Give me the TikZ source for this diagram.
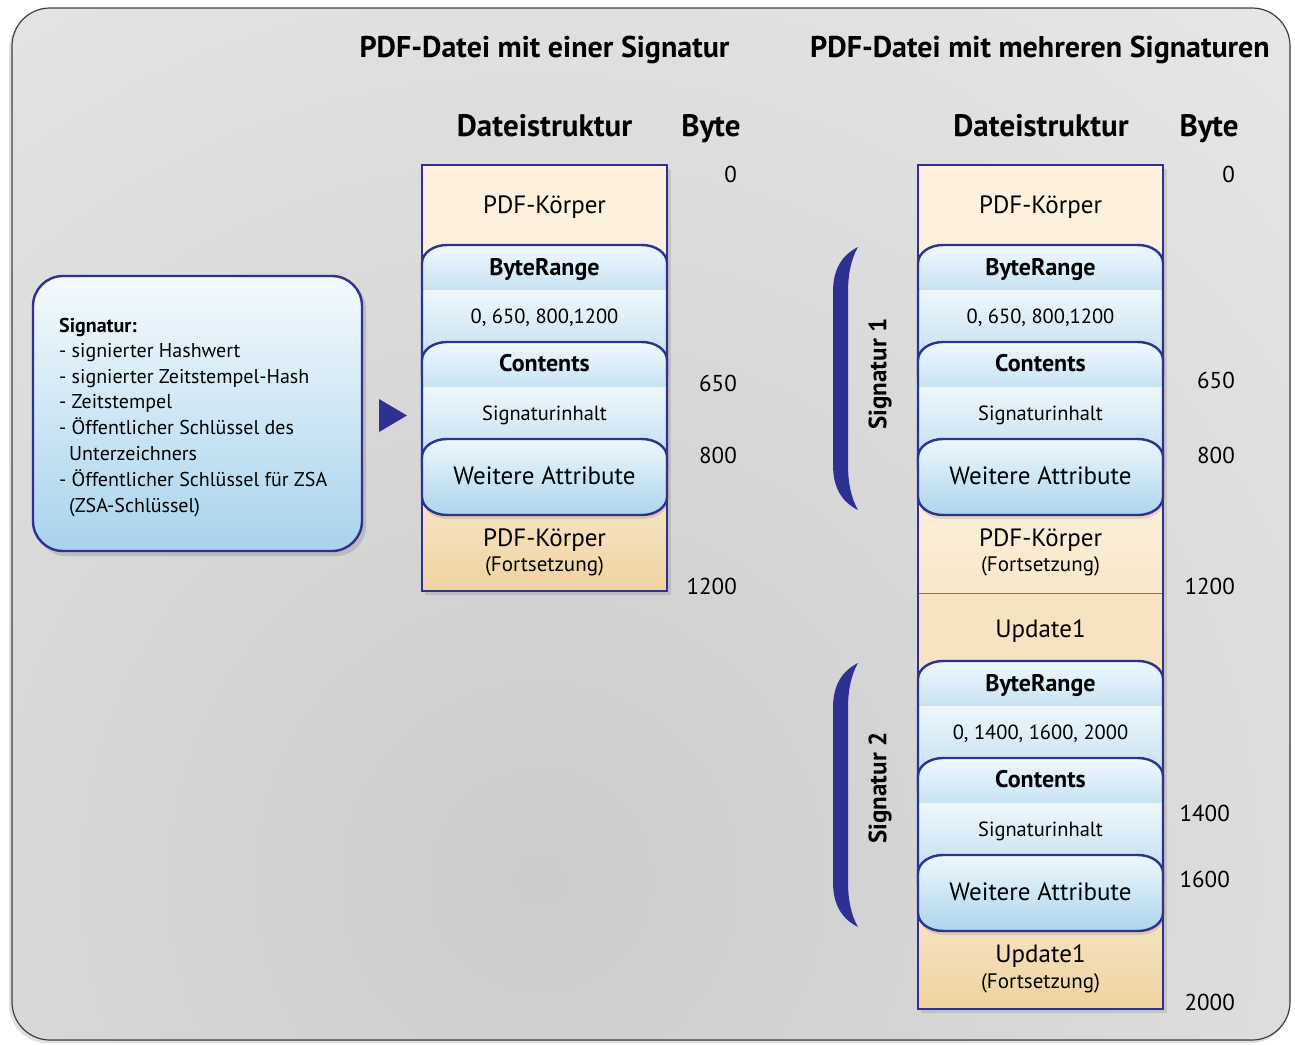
\documentclass[tikz,border=0pt]{standalone}
\usepackage{fontspec}
\setmainfont{PT Sans}
\definecolor{navy}{HTML}{2E3192}
\definecolor{bgA}{HTML}{E8E8E8}
\definecolor{bgB}{HTML}{CCCCCC}
\definecolor{pdfl}{HTML}{FDF1DE}
\definecolor{pdfm}{HTML}{F8E7C9}
\definecolor{upd}{HTML}{F6E3C0}
\definecolor{pdfd}{HTML}{EFD3A0}
\definecolor{bhtop}{HTML}{F0F8FD}
\definecolor{bhbot}{HTML}{C6E3F4}
\definecolor{bbtop}{HTML}{EEF7FC}
\definecolor{bbbot}{HTML}{B9DBF0}
\definecolor{watop}{HTML}{EEF7FC}
\definecolor{wabot}{HTML}{ACD5EE}
\definecolor{lbtop}{HTML}{F5FAFE}
\definecolor{lbbot}{HTML}{A8D3EC}
\pgfdeclareradialshading{bgshade}{\pgfpoint{0bp}{0bp}}{color(0bp)=(bgB); color(19bp)=(bgA); color(50bp)=(bgA)}
\tikzset{
  title/.style={font=\fontsize{30}{34}\selectfont\bfseries, anchor=base, inner sep=0},
  colhead/.style={font=\fontsize{31}{35}\selectfont\bfseries, anchor=base, inner sep=0},
  body/.style={font=\fontsize{25}{29}\selectfont, anchor=base, inner sep=0},
  sub/.style={font=\fontsize{21}{25}\selectfont, anchor=base, inner sep=0},
  hd/.style={font=\fontsize{24}{28}\selectfont\bfseries, anchor=base, inner sep=0},
  sm/.style={font=\fontsize{20.5}{24}\selectfont, anchor=base, inner sep=0},
  wa/.style={font=\fontsize{25}{29}\selectfont, anchor=base, inner sep=0},
  num/.style={font=\fontsize{23}{27}\selectfont, anchor=base east, inner sep=0},
  sig/.style={font=\fontsize{25}{29}\selectfont\bfseries, rotate=90, inner sep=0},
  lbox/.style={font=\fontsize{20}{26}\selectfont, anchor=base west, inner sep=0},
  edge/.style={navy, line width=2.4},
}
\newcommand\topband[3]{%
  \fill[top color=bhtop, bottom color=bhbot] (422,#2) -- (422,#1+18)
    arc[start angle=180, end angle=270, x radius=25, y radius=18] -- (642,#1)
    arc[start angle=270, end angle=360, x radius=25, y radius=18] -- (667,#2) -- cycle;
  \fill[top color=bbtop, bottom color=bbbot] (422,#2) rectangle (667,#3);
  \draw[edge] (422,#3) -- (422,#1+18)
    arc[start angle=180, end angle=270, x radius=25, y radius=18] -- (642,#1)
    arc[start angle=270, end angle=360, x radius=25, y radius=18] -- (667,#3);
}
\newcommand\wablock[2]{%
  \fill[black, opacity=0.10] (423,#1+22)
    arc[start angle=180, end angle=270, x radius=25, y radius=18] -- (643,#1+4)
    arc[start angle=270, end angle=360, x radius=25, y radius=18] -- (668,#2+4-18)
    arc[start angle=0, end angle=90, x radius=25, y radius=18] -- (448,#2+4)
    arc[start angle=90, end angle=180, x radius=25, y radius=18] -- cycle;
  \filldraw[edge, top color=watop, bottom color=wabot] (422,#1+18)
    arc[start angle=180, end angle=270, x radius=25, y radius=18] -- (642,#1)
    arc[start angle=270, end angle=360, x radius=25, y radius=18] -- (667,#2-18)
    arc[start angle=0, end angle=90, x radius=25, y radius=18] -- (447,#2)
    arc[start angle=90, end angle=180, x radius=25, y radius=18] -- cycle;
}
\newcommand\sigstack[2]{%
  \topband{245}{290}{375}
  \topband{342}{387}{470}
  \wablock{439}{515}
  \node[hd] (#1br) at (544.5,275) {ByteRange};
  \node[sm] (#1rg) at (544.5,323) {#2};
  \node[hd] (#1ct) at (544.5,371) {Contents};
  \node[sm] (#1si) at (544.5,420) {Signaturinhalt};
  \node[wa] (#1wa) at (544.5,484) {Weitere Attribute};
}
\newcommand\sigbrace[2]{%
  \fill[navy] (858,#1) .. controls (842,#1+8) and (833,#1+22) .. (833,#1+45)
    -- (833,#2-45) .. controls (833,#2-22) and (842,#2-8) .. (858,#2)
    .. controls (851,#2-12) and (848,#2-28) .. (848,#2-45)
    -- (848,#1+45) .. controls (848,#1+28) and (851,#1+12) .. (858,#1) -- cycle;
}
\begin{document}
\begin{tikzpicture}[x=1pt, y=-1pt]
\useasboundingbox (0,0) rectangle (1295,1044);
% background
\fill[black, opacity=0.12, rounded corners=38] (9,12) rectangle (1289,1043);
\begin{scope}
  \clip[rounded corners=38] (12,8) rectangle (1290,1040);
  \fill[bgA] (0,0) rectangle (1295,1044);
  \fill[shading=bgshade] (540,880) circle[radius=1600];
\end{scope}
\draw[black!75, line width=1.2, rounded corners=38] (12,8) rectangle (1290,1040);

% titles
\node[title] (t1) at (544.5,57) {PDF-Datei mit einer Signatur};
\node[title] (t2) at (1040,57) {PDF-Datei mit mehreren Signaturen};
\node[colhead] (d1) at (544.5,136) {Dateistruktur};
\node[colhead] (b1) at (711,136) {Byte};
\node[colhead] (d2) at (1041,136) {Dateistruktur};
\node[colhead] (b2) at (1209,136) {Byte};

% left info box
\fill[black, opacity=0.12, rounded corners=30] (36,279) rectangle (366,556);
\filldraw[navy, line width=2.4, top color=lbtop, bottom color=lbbot, rounded corners=30] (33,276) rectangle (362,551);
\node[lbox] (l0) at (59,332) {\bfseries Signatur:};
\node[lbox] (l1) at (59,357) {- signierter Hashwert};
\node[lbox] (l2) at (59,383) {- signierter Zeitstempel-Hash};
\node[lbox] (l3) at (59,408) {- Zeitstempel};
\node[lbox] (l4) at (59,434) {- Öffentlicher Schlüssel des};
\node[lbox] (l5) at (69,460) {Unterzeichners};
\node[lbox] (l6) at (59,486) {- Öffentlicher Schlüssel für ZSA};
\node[lbox] (l7) at (69,512) {(ZSA-Schlüssel)};
\fill[navy] (379,399) -- (407,415.5) -- (379,432) -- cycle;

% ===== left column =====
\fill[black, opacity=0.10] (425,169) rectangle (671,595);
\fill[pdfl] (422,165) rectangle (667,591);
\fill[top color=pdfm, bottom color=pdfd] (422,490) rectangle (667,591);
\sigstack{a}{0, 650, 800,1200}
\draw[edge] (422,165) rectangle (667,591);
\node[body] (ap1) at (544.5,213) {PDF-Körper};
\node[body] (ap2) at (544.5,546) {PDF-Körper};
\node[sub] (ap3) at (544.5,571) {(Fortsetzung)};
\node[num] (an0) at (737,182) {0};
\node[num] (an1) at (737,391) {650};
\node[num] (an2) at (737,463) {800};
\node[num] (an3) at (737,594) {1200};

% ===== right column =====
\fill[black, opacity=0.10] (921,169) rectangle (1167,1013);
\fill[pdfl] (918,165) rectangle (1163,593);
\fill[top color=pdfl, bottom color=pdfm] (918,480) rectangle (1163,593);
\fill[upd] (918,593) rectangle (1163,1009);
\fill[top color=upd, bottom color=pdfd] (918,920) rectangle (1163,1009);
\draw[navy!70, line width=1] (918,593) -- (1163,593);
\begin{scope}[shift={(496,0)}]
  \sigstack{b}{0, 650, 800,1200}
\end{scope}
\begin{scope}[shift={(496,416)}]
  \sigstack{c}{0, 1400, 1600, 2000}
\end{scope}
\draw[edge] (918,165) rectangle (1163,1009);
\node[body] (bp1) at (1040.5,213) {PDF-Körper};
\node[body] (bp2) at (1040.5,546) {PDF-Körper};
\node[sub] (bp3) at (1040.5,571) {(Fortsetzung)};
\node[body] (bu1) at (1040.5,637) {Update1};
\node[body] (bu2) at (1040.5,962) {Update1};
\node[sub] (bu3) at (1040.5,988) {(Fortsetzung)};
\node[num] (bn0) at (1235,182) {0};
\node[num] (bn1) at (1235,388) {650};
\node[num] (bn2) at (1235,463) {800};
\node[num] (bn3) at (1235,594) {1200};
\node[num] (bn4) at (1230,821) {1400};
\node[num] (bn5) at (1230,887) {1600};
\node[num] (bn6) at (1235,1010) {2000};

% braces
\sigbrace{247}{510}
\sigbrace{663}{927}
\node[sig] (s1) at (880,374) {Signatur 1};
\node[sig] (s2) at (880,788) {Signatur 2};
\end{tikzpicture}
\end{document}
